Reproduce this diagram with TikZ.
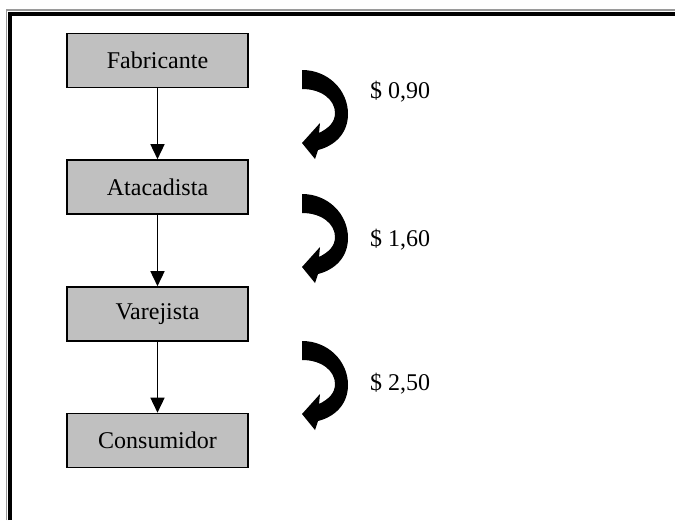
\documentclass[tikz,border=0pt]{standalone}
\usepackage{fontspec}
\setmainfont{Liberation Serif}
\usetikzlibrary{arrows.meta}
\definecolor{boxgray}{HTML}{C0C0C0}
\definecolor{framegray}{HTML}{9A9A9A}
\tikzset{
  stage/.style={draw=black, line width=1.6pt, fill=boxgray, minimum width=181pt,
    minimum height=54pt, inner sep=0pt, font=\fontsize{24}{28}\selectfont},
  flow/.style={line width=1.5pt, -{Triangle[width=14pt,length=15pt]}},
  price/.style={anchor=west, inner sep=0pt, font=\fontsize{24}{28}\selectfont},
}
% filled curved arrow, local origin at its upper left corner
\newcommand{\bentarrow}[1]{%
  \begin{scope}[shift={#1}]
    \fill[black] (0,0) .. controls (26,0) and (46,20) .. (46,44)
      .. controls (46,64) and (32,76) .. (16,80) -- (13,89) -- (0,73)
      -- (18,53) -- (17,63) .. controls (27,58) and (33,52) .. (33,43)
      .. controls (33,30) and (20,19) .. (0,19) -- cycle;
  \end{scope}}
\begin{document}
\begin{tikzpicture}[x=1pt,y=-1pt]
  \useasboundingbox (0,0) rectangle (675,520);
  % page frame (left and top edges)
  \draw[framegray, line width=1.1pt] (6.5,520) -- (6.5,10) -- (675,10);
  \draw[black, line width=3.6pt] (10.2,520) -- (10.2,14.2) -- (675,14.2);

  \node[stage] (fab) at (157.5,60.5) {Fabricante};
  \node[stage] (ata) at (157.5,187) {Atacadista};
  \node[stage] (var) at (157.5,314) {Varejista};
  \node[stage] (con) at (157.5,440.5) {Consumidor};

  \draw[flow] (fab) -- (ata);
  \draw[flow] (ata) -- (var);
  \draw[flow] (var) -- (con);

  \bentarrow{(302,70)}
  \bentarrow{(302,194)}
  \bentarrow{(302,341)}

  \node[price] (p1) at (370,92) {\$ 0,90};
  \node[price] (p2) at (370,240) {\$ 1,60};
  \node[price] (p3) at (370,384) {\$ 2,50};
\end{tikzpicture}
\end{document}
